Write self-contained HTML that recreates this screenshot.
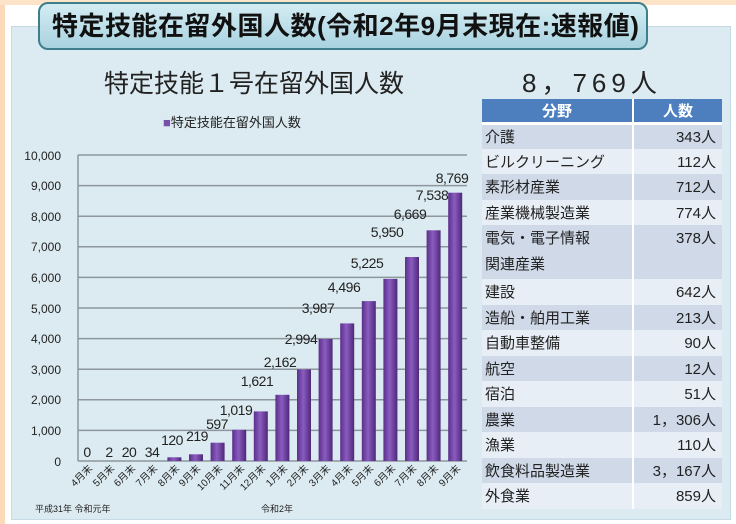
<!DOCTYPE html>
<html><head><meta charset="utf-8"><style>
body{margin:0;width:736px;height:524px;overflow:hidden;background:#fff;position:relative;font-family:"Liberation Sans","Noto Sans CJK JP",sans-serif}
.a{position:absolute}
table{border-collapse:collapse}
</style></head><body>
<div class="a" style="left:0;top:0;width:5px;height:524px;background:#fcd9b8"></div>
<div class="a" style="left:0;top:0;width:736px;height:5px;background:#fde3c8"></div>
<div class="a" style="left:11px;top:26px;width:718px;height:492px;background:#dcebf2;border:1px solid #c6dbe6"></div>
<div class="a" style="left:38px;top:2px;width:610px;height:48px;border:2px solid #3d7e8a;border-radius:10px;background:linear-gradient(#d4ecf3,#a9d3e0);box-sizing:border-box;font-weight:bold;font-size:26px;line-height:44px;padding-left:12px;color:#111;font-family:'Liberation Sans','Noto Sans CJK JP',sans-serif;letter-spacing:0.5px;white-space:nowrap">特定技能在留外国人数(令和2年9月末現在:速報値)</div>
<div class="a" style="left:104px;top:64px;font-size:25px;color:#222">特定技能１号在留外国人数</div>
<div class="a" style="left:522px;top:63px;font-size:26px;color:#222;letter-spacing:5px">8，769人</div>
<div class="a" style="left:163px;top:112px;font-size:13px;color:#222"><span style="color:#7a4fa8">■</span>特定技能在留外国人数</div>
<svg class="a" style="left:0;top:0" width="736" height="524">
<defs><linearGradient id="g" x1="0" x2="1"><stop offset="0" stop-color="#5a2f8a"/><stop offset=".45" stop-color="#8a5cc0"/><stop offset="1" stop-color="#4e2878"/></linearGradient></defs>
<g stroke="#8c969c" stroke-width="1.5">
<line x1="78" y1="155" x2="467" y2="155"/><line x1="78" y1="185.6" x2="467" y2="185.6"/><line x1="78" y1="216.2" x2="467" y2="216.2"/><line x1="78" y1="246.8" x2="467" y2="246.8"/><line x1="78" y1="277.4" x2="467" y2="277.4"/><line x1="78" y1="308" x2="467" y2="308"/><line x1="78" y1="338.6" x2="467" y2="338.6"/><line x1="78" y1="369.2" x2="467" y2="369.2"/><line x1="78" y1="399.8" x2="467" y2="399.8"/><line x1="78" y1="430.4" x2="467" y2="430.4"/><line x1="78" y1="461" x2="467" y2="461"/><line x1="78" y1="155" x2="78" y2="461"/>
</g>
<g font-size="12" fill="#222" text-anchor="end" font-family="Liberation Sans,sans-serif">
<text x="61" y="160">10,000</text><text x="61" y="190">9,000</text><text x="61" y="221">8,000</text><text x="61" y="251">7,000</text><text x="61" y="282">6,000</text><text x="61" y="313">5,000</text><text x="61" y="343">4,000</text><text x="61" y="374">3,000</text><text x="61" y="404">2,000</text><text x="61" y="435">1,000</text><text x="61" y="466">0</text>
</g>
<g fill="url(#g)">
<rect x="167.4" y="457.3" width="14" height="3.7"/><rect x="189" y="454.3" width="14" height="6.7"/><rect x="210.6" y="442.7" width="14" height="18.3"/><rect x="232.2" y="429.8" width="14" height="31.2"/><rect x="253.8" y="411.4" width="14" height="49.6"/><rect x="275.4" y="394.8" width="14" height="66.2"/><rect x="297" y="369.4" width="14" height="91.6"/><rect x="318.6" y="339" width="14" height="122"/><rect x="340.2" y="323.4" width="14" height="137.6"/><rect x="361.8" y="301.1" width="14" height="159.9"/><rect x="383.4" y="278.9" width="14" height="182.1"/><rect x="405" y="257" width="14" height="204"/><rect x="426.6" y="230.3" width="14" height="230.7"/><rect x="448.2" y="192.7" width="14" height="268.3"/>
</g>
<g font-size="14" fill="#222" text-anchor="middle" letter-spacing="-0.5" font-family="Liberation Sans,sans-serif">
<text x="87" y="457">0</text><text x="109" y="457">2</text><text x="129" y="457">20</text><text x="152" y="457">34</text><text x="172" y="445">120</text><text x="197" y="441">219</text><text x="217" y="429">597</text><text x="236" y="415">1,019</text><text x="257" y="386">1,621</text><text x="280" y="367">2,162</text><text x="301" y="344">2,994</text><text x="318" y="313">3,987</text><text x="344" y="292">4,496</text><text x="367" y="268">5,225</text><text x="387" y="237">5,950</text><text x="410" y="219">6,669</text><text x="432" y="200">7,538</text><text x="452" y="183">8,769</text>
</g>
<g font-size="10" fill="#222" text-anchor="end" font-family="Liberation Sans,Noto Sans CJK JP,sans-serif">
<text transform="translate(93,469) rotate(-45)">4月末</text><text transform="translate(115,469) rotate(-45)">5月末</text><text transform="translate(136,469) rotate(-45)">6月末</text><text transform="translate(158,469) rotate(-45)">7月末</text><text transform="translate(180,469) rotate(-45)">8月末</text><text transform="translate(201,469) rotate(-45)">9月末</text><text transform="translate(223,469) rotate(-45)">10月末</text><text transform="translate(245,469) rotate(-45)">11月末</text><text transform="translate(266,469) rotate(-45)">12月末</text><text transform="translate(288,469) rotate(-45)">1月末</text><text transform="translate(309,469) rotate(-45)">2月末</text><text transform="translate(331,469) rotate(-45)">3月末</text><text transform="translate(353,469) rotate(-45)">4月末</text><text transform="translate(374,469) rotate(-45)">5月末</text><text transform="translate(396,469) rotate(-45)">6月末</text><text transform="translate(417,469) rotate(-45)">7月末</text><text transform="translate(439,469) rotate(-45)">8月末</text><text transform="translate(461,469) rotate(-45)">9月末</text>
</g>
<g font-size="9" fill="#222" font-family="Liberation Sans,Noto Sans CJK JP,sans-serif"><text x="35" y="512">平成31年 令和元年</text><text x="261" y="512">令和2年</text></g>
</svg>
<table class="a" style="left:482px;top:99px;width:240px;font-size:15px;color:#222">
<tr style="height:24px;background:#4d7fbf;color:#fff;font-weight:bold;text-align:center"><td style="width:148px;border-right:2px solid #fff">分野</td><td>人数</td></tr>
<tr style="height:25px;background:#cfd9e8"><td style="padding-left:3px;border-right:2px solid #fff;border-top:3px solid #fff">介護</td><td style="text-align:right;padding-right:6px;border-top:3px solid #fff">343人</td></tr>
<tr style="height:25.5px;background:#e8eef5"><td style="padding-left:3px;border-right:2px solid #fff">ビルクリーニング</td><td style="text-align:right;padding-right:6px">112人</td></tr>
<tr style="height:25.5px;background:#cfd9e8"><td style="padding-left:3px;border-right:2px solid #fff">素形材産業</td><td style="text-align:right;padding-right:6px">712人</td></tr>
<tr style="height:25.5px;background:#e8eef5"><td style="padding-left:3px;border-right:2px solid #fff">産業機械製造業</td><td style="text-align:right;padding-right:6px">774人</td></tr>
<tr style="height:51px;background:#cfd9e8"><td style="padding-left:3px;border-right:2px solid #fff;line-height:26px">電気・電子情報<br>関連産業</td><td style="text-align:right;padding-right:6px;vertical-align:top;line-height:26px">378人</td></tr>
<tr style="height:25.5px;background:#e8eef5"><td style="padding-left:3px;border-right:2px solid #fff">建設</td><td style="text-align:right;padding-right:6px">642人</td></tr>
<tr style="height:25.5px;background:#cfd9e8"><td style="padding-left:3px;border-right:2px solid #fff">造船・舶用工業</td><td style="text-align:right;padding-right:6px">213人</td></tr>
<tr style="height:25.5px;background:#e8eef5"><td style="padding-left:3px;border-right:2px solid #fff">自動車整備</td><td style="text-align:right;padding-right:6px">90人</td></tr>
<tr style="height:25.5px;background:#cfd9e8"><td style="padding-left:3px;border-right:2px solid #fff">航空</td><td style="text-align:right;padding-right:6px">12人</td></tr>
<tr style="height:25.5px;background:#e8eef5"><td style="padding-left:3px;border-right:2px solid #fff">宿泊</td><td style="text-align:right;padding-right:6px">51人</td></tr>
<tr style="height:25.5px;background:#cfd9e8"><td style="padding-left:3px;border-right:2px solid #fff">農業</td><td style="text-align:right;padding-right:6px">1，306人</td></tr>
<tr style="height:25.5px;background:#e8eef5"><td style="padding-left:3px;border-right:2px solid #fff">漁業</td><td style="text-align:right;padding-right:6px">110人</td></tr>
<tr style="height:25.5px;background:#cfd9e8"><td style="padding-left:3px;border-right:2px solid #fff">飲食料品製造業</td><td style="text-align:right;padding-right:6px">3，167人</td></tr>
<tr style="height:25.5px;background:#e8eef5"><td style="padding-left:3px;border-right:2px solid #fff">外食業</td><td style="text-align:right;padding-right:6px">859人</td></tr>
</table>
</body></html>
